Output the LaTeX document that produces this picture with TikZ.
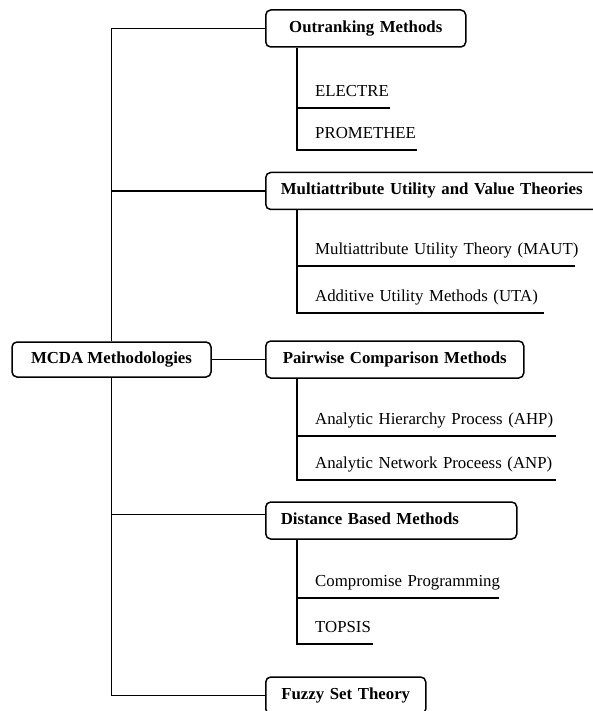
\documentclass[tikz,border=0pt]{standalone}
\usepackage{fontspec}
\setmainfont{Liberation Serif}
\tikzset{
    rootbox/.style={draw,line width=1.5pt,rounded corners=5pt,minimum width=199pt,minimum height=35pt,inner xsep=0pt,font=\bfseries\fontsize{16.8}{20}\selectfont,text height=11pt,text depth=3.5pt},
    catbox/.style={draw,line width=1.5pt,rounded corners=5pt,anchor=west,minimum height=37pt,inner xsep=15pt,align=center,font=\bfseries\fontsize{16.8}{20}\selectfont,text height=11pt,text depth=3.5pt},
    leaf/.style={anchor=south west,inner xsep=0pt,inner ysep=7.5pt,text width=#1,align=left,font=\fontsize{16.8}{20}\selectfont,text depth=4pt},
    tree/.style={line width=1.5pt},
}
\begin{document}
\begin{tikzpicture}[x=1pt,y=-1pt]
    \useasboundingbox (0,0) rectangle (592,711);
    %% Root
    \node[rootbox] (mcda) at (111.5,359.5) {MCDA Methodologies};
    %% Method families
    \node[catbox,text width=170pt] (outr) at (265,28.5) {Outranking Methods};
    \node[catbox,text width=302pt] (mavt) at (265,191) {\mbox{Multiattribute Utility and Value Theories}};
    \node[catbox,text width=228pt] (pair) at (265,359.5) {Pairwise Comparison Methods};
    \node[catbox,text width=221pt,align=left] (dist) at (265,520.5) {Distance Based Methods};
    \node[catbox,text width=130pt] (fuzz) at (265,695.5) {\mbox{Fuzzy Set Theory}};
    %% Methods
    \node[leaf=75pt] (electre) at (315,108) {ELECTRE};
    \node[leaf=102pt] (prom) at (315,150) {PROMETHEE};
    \node[leaf=260pt] (maut) at (315,266) {\mbox{Multiattribute Utility Theory (MAUT)}};
    \node[leaf=229pt] (uta) at (315,313) {\mbox{Additive Utility Methods (UTA)}};
    \node[leaf=241pt] (ahp) at (315,436) {\mbox{Analytic Hierarchy Process (AHP)}};
    \node[leaf=241pt] (anp) at (315,480) {\mbox{Analytic Network Proceess (ANP)}};
    \node[leaf=184pt] (cp) at (315,598) {\mbox{Compromise Programming}};
    \node[leaf=58pt] (topsis) at (315,644) {TOPSIS};
    %% Trunk
    \draw[tree] (mcda.north) |- (outr.west);
    \draw[tree] (mcda.south) |- (fuzz.west);
    \draw[tree] (mcda.north |- mavt.west) -- (mavt.west);
    \draw[tree] (mcda.east) -- (pair.west);
    \coordinate (distin) at ([yshift=6pt]dist.west);
    \draw[tree] (mcda.south |- distin) -- (distin);
    %% Branches
    \coordinate (outrv) at ([xshift=32pt]outr.south west);
    \draw[tree] (outrv) |- (prom.south east);
    \draw[tree] (outrv |- electre.south) -- (electre.south east);
    \coordinate (mavtv) at ([xshift=32pt]mavt.south west);
    \draw[tree] (mavtv) |- (uta.south east);
    \draw[tree] (mavtv |- maut.south) -- (maut.south east);
    \coordinate (pairv) at ([xshift=32pt]pair.south west);
    \draw[tree] (pairv) |- (anp.south east);
    \draw[tree] (pairv |- ahp.south) -- (ahp.south east);
    \coordinate (distv) at ([xshift=32pt]dist.south west);
    \draw[tree] (distv) |- (topsis.south east);
    \draw[tree] (distv |- cp.south) -- (cp.south east);
\end{tikzpicture}
\end{document}
